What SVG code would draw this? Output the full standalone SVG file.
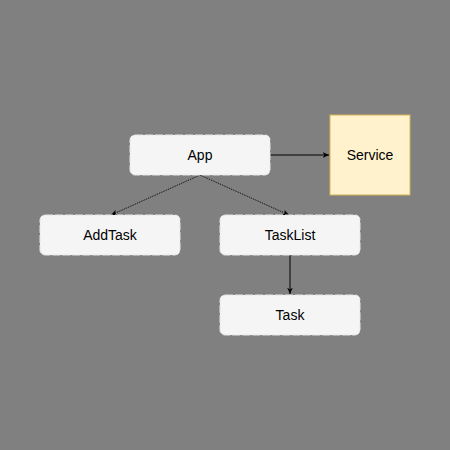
<svg xmlns="http://www.w3.org/2000/svg" width="450" height="450" viewBox="0 0 450 450">
<style>
.node{fill:#f5f5f5;stroke:#e6e6e6;stroke-width:1;stroke-dasharray:8 2}
.svc{fill:#fff2cc;stroke:#d6b656;stroke-width:1}
.lbl{font-family:"Liberation Sans",Arial,sans-serif;font-size:14px;fill:#000;text-anchor:middle;dominant-baseline:central}
.edge{stroke:#000;stroke-width:1;fill:none}
.dot{stroke-dasharray:1 1}
</style>
<defs>
<marker id="arr" viewBox="0 0 10 10" refX="9" refY="5" markerWidth="7" markerHeight="7" orient="auto" markerUnits="userSpaceOnUse">
<path d="M0,1 L9,5 L0,9 L2.5,5 Z" fill="#000"/>
</marker>
</defs>
<rect width="450" height="450" fill="#808080"/>
<g id="connectors">
<path class="edge" d="M270,155 L329,155" marker-end="url(#arr)"/>
<path class="edge dot" d="M200,175 L111,215" marker-end="url(#arr)"/>
<path class="edge dot" d="M200,175 L289,215" marker-end="url(#arr)"/>
<path class="edge" d="M290,255 L290,294" marker-end="url(#arr)"/>
</g>
<g id="app"><rect class="node" x="130" y="135" width="140" height="40" rx="5"/><text class="lbl" x="200" y="155">App</text></g>
<g id="service"><rect class="svc" x="330" y="115" width="80" height="80"/><text class="lbl" x="370" y="155">Service</text></g>
<g id="addtask"><rect class="node" x="40" y="215" width="140" height="40" rx="5"/><text class="lbl" x="110" y="235">AddTask</text></g>
<g id="tasklist"><rect class="node" x="220" y="215" width="140" height="40" rx="5"/><text class="lbl" x="290" y="235">TaskList</text></g>
<g id="task"><rect class="node" x="220" y="295" width="140" height="40" rx="5"/><text class="lbl" x="290" y="315">Task</text></g>
</svg>
